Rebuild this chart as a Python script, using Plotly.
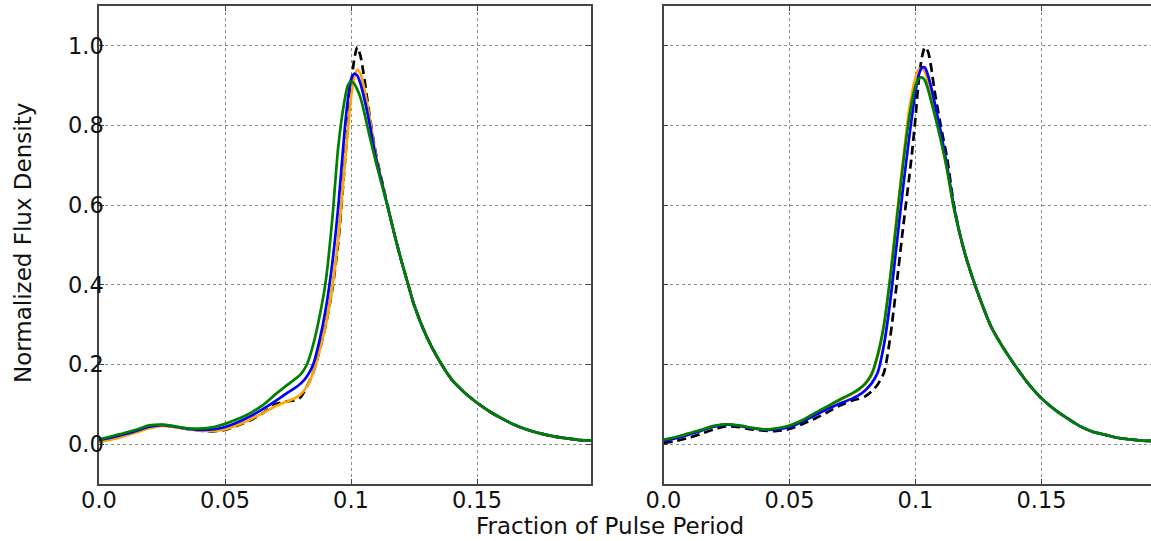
import plotly.graph_objects as go

# shared phase grid (fraction of pulse period)
phase = [0, 0.005, 0.01, 0.015, 0.02, 0.025, 0.03, 0.035, 0.04, 0.045, 0.05, 0.055, 0.06, 0.065, 0.07,
         0.075, 0.0775, 0.08, 0.0825, 0.085, 0.0875, 0.09, 0.0925,
         0.095, 0.0975, 0.09875, 0.1, 0.10125, 0.1025, 0.10375, 0.105, 0.10625, 0.1075,
         0.11, 0.1125, 0.115, 0.1175, 0.12, 0.1225, 0.125,
         0.13, 0.135, 0.14, 0.145, 0.15, 0.155, 0.16, 0.165, 0.17, 0.175, 0.18, 0.185, 0.19, 0.195, 0.2]

# ---- left panel ----
left_black = [0.008, 0.013, 0.022, 0.033, 0.043, 0.048, 0.044, 0.038, 0.034, 0.032, 0.036, 0.047, 0.060, 0.078, 0.100,
              0.108, 0.110, 0.118, 0.145, 0.18, 0.235, 0.30, 0.385,
              0.51, 0.70, 0.80, 0.895, 0.965, 0.997, 0.975, 0.93, 0.875, 0.82,
              0.725, 0.655, 0.585, 0.52, 0.46, 0.405, 0.35,
              0.27, 0.21, 0.162, 0.13, 0.104, 0.082, 0.064, 0.048, 0.036, 0.027, 0.020, 0.015, 0.011, 0.009, 0.008]
left_orange = [0.005, 0.012, 0.020, 0.030, 0.040, 0.046, 0.043, 0.038, 0.034, 0.033, 0.037, 0.048, 0.062, 0.078, 0.095,
               0.108, 0.115, 0.125, 0.145, 0.18, 0.235, 0.30, 0.39,
               0.52, 0.70, 0.79, 0.87, 0.92, 0.94, 0.93, 0.90, 0.86, 0.815,
               0.72, 0.65, 0.585, 0.52, 0.46, 0.405, 0.35,
               0.27, 0.21, 0.162, 0.13, 0.104, 0.082, 0.064, 0.048, 0.036, 0.027, 0.020, 0.015, 0.011, 0.009, 0.008]
left_blue = [0.010, 0.017, 0.025, 0.034, 0.044, 0.048, 0.044, 0.039, 0.036, 0.037, 0.043, 0.055, 0.070, 0.088, 0.108,
             0.130, 0.140, 0.152, 0.170, 0.20, 0.26, 0.34, 0.45,
             0.60, 0.79, 0.865, 0.915, 0.93, 0.925, 0.905, 0.875, 0.84, 0.80,
             0.715, 0.65, 0.585, 0.52, 0.46, 0.405, 0.35,
             0.27, 0.21, 0.162, 0.13, 0.104, 0.082, 0.064, 0.048, 0.036, 0.027, 0.020, 0.015, 0.011, 0.009, 0.008]
left_green = [0.012, 0.020, 0.028, 0.037, 0.047, 0.049, 0.045, 0.040, 0.039, 0.042, 0.051, 0.063, 0.078, 0.098, 0.125,
              0.150, 0.162, 0.175, 0.20, 0.25, 0.32, 0.41, 0.56,
              0.75, 0.865, 0.90, 0.91, 0.905, 0.89, 0.87, 0.84, 0.805, 0.77,
              0.705, 0.645, 0.585, 0.52, 0.46, 0.405, 0.35,
              0.27, 0.21, 0.162, 0.13, 0.104, 0.082, 0.064, 0.048, 0.036, 0.027, 0.020, 0.015, 0.011, 0.009, 0.008]

# ---- right panel ----
right_black = [0.003, 0.008, 0.016, 0.026, 0.037, 0.045, 0.043, 0.037, 0.034, 0.033, 0.038, 0.050, 0.064, 0.080, 0.097,
               0.110, 0.114, 0.120, 0.132, 0.150, 0.18, 0.27, 0.40,
               0.54, 0.67, 0.74, 0.82, 0.91, 0.97, 0.997, 0.985, 0.945, 0.89,
               0.80, 0.72, 0.61, 0.53, 0.47, 0.42, 0.375,
               0.295, 0.24, 0.193, 0.15, 0.115, 0.088, 0.066, 0.046, 0.032, 0.024, 0.016, 0.012, 0.009, 0.008, 0.007]
right_orange = [0.010, 0.017, 0.026, 0.035, 0.045, 0.050, 0.047, 0.041, 0.037, 0.039, 0.046, 0.059, 0.077, 0.094, 0.111,
                0.127, 0.137, 0.150, 0.172, 0.22, 0.30, 0.42, 0.57,
                0.71, 0.84, 0.885, 0.92, 0.94, 0.944, 0.935, 0.91, 0.875, 0.835,
                0.765, 0.69, 0.60, 0.53, 0.47, 0.42, 0.375,
                0.295, 0.24, 0.193, 0.15, 0.115, 0.088, 0.066, 0.046, 0.032, 0.024, 0.016, 0.012, 0.009, 0.008, 0.007]
right_blue = [0.008, 0.015, 0.024, 0.034, 0.044, 0.049, 0.046, 0.040, 0.036, 0.037, 0.043, 0.056, 0.072, 0.088, 0.102,
              0.115, 0.123, 0.135, 0.152, 0.18, 0.25, 0.36, 0.50,
              0.64, 0.77, 0.83, 0.885, 0.925, 0.945, 0.945, 0.925, 0.895, 0.86,
              0.785, 0.70, 0.605, 0.53, 0.47, 0.42, 0.375,
              0.295, 0.24, 0.193, 0.15, 0.115, 0.088, 0.066, 0.046, 0.032, 0.024, 0.016, 0.012, 0.009, 0.008, 0.007]
right_green = [0.011, 0.018, 0.027, 0.036, 0.046, 0.050, 0.047, 0.041, 0.037, 0.040, 0.047, 0.060, 0.078, 0.095, 0.112,
               0.128, 0.138, 0.152, 0.175, 0.225, 0.30, 0.42, 0.56,
               0.70, 0.82, 0.865, 0.90, 0.917, 0.921, 0.913, 0.89, 0.86, 0.83,
               0.765, 0.69, 0.60, 0.53, 0.47, 0.42, 0.375,
               0.295, 0.24, 0.193, 0.15, 0.115, 0.088, 0.066, 0.046, 0.032, 0.024, 0.016, 0.012, 0.009, 0.008, 0.007]

x_tickvals = [0, 0.05, 0.1, 0.15]
x_ticktext = ["0.0", "0.05", "0.1", "0.15"]
y_tickvals = [0.0, 0.2, 0.4, 0.6, 0.8, 1.0]
y_ticktext = ["0.0", "0.2", "0.4", "0.6", "0.8", "1.0"]

FONT = "DejaVu Sans"
W, H = 1151, 541

fig = go.Figure()

series = [("black", "9px,5px"), ("orange", "solid"), ("blue", "solid"), ("green", "solid")]
colors = {"black": "#000000", "orange": "#ffa500", "blue": "#0000ff", "green": "#008000"}
left = {"black": left_black, "orange": left_orange, "blue": left_blue, "green": left_green}
right = {"black": right_black, "orange": right_orange, "blue": right_blue, "green": right_green}

for data, xa, ya in ((left, "x", "y"), (right, "x2", "y2")):
    for name, dash in series:
        fig.add_trace(go.Scatter(x=phase, y=data[name], mode="lines", xaxis=xa, yaxis=ya,
                                 line=dict(color=colors[name], width=2.7, dash=dash,
                                           shape="spline", smoothing=0.7),
                                 showlegend=False, hoverinfo="skip"))

ydom = [1 - 484 / H, 1 - 6 / H]
common_axis = dict(
    showgrid=True, gridcolor="#8a8a8a", griddash="dot", gridwidth=1,
    zeroline=False, showline=True, linecolor="#444444", linewidth=1.5,
    ticks="inside", ticklen=5, tickcolor="#444444", tickwidth=1,
    tickfont=dict(family=FONT, size=22.5, color="#111111"),
    automargin=False,
)

fig.update_layout(
    width=W, height=H,
    margin=dict(l=0, r=0, t=0, b=0),
    paper_bgcolor="white", plot_bgcolor="white",
    font=dict(family=FONT, size=22, color="#111111"),
    xaxis=dict(domain=[99 / W, 591 / W], range=[0, 0.19524], tickvals=x_tickvals, ticktext=x_ticktext,
               mirror="allticks", anchor="y", ticklabelstandoff=-5, **common_axis),
    yaxis=dict(domain=ydom, range=[-0.1, 1.1], tickvals=y_tickvals, ticktext=y_ticktext,
               mirror="allticks", anchor="x", ticklabelstandoff=-11, **common_axis),
    xaxis2=dict(domain=[663.5 / W, 1.0], range=[0, 0.19345], tickvals=x_tickvals, ticktext=x_ticktext,
                mirror="allticks", anchor="y2", ticklabelstandoff=-5, **common_axis),
    yaxis2=dict(domain=ydom, range=[-0.1, 1.1], tickvals=y_tickvals, ticktext=y_ticktext,
                showticklabels=False, mirror=False, anchor="x2", **common_axis),
    annotations=[
        dict(text="Fraction of Pulse Period", xref="paper", yref="paper", x=610 / W, y=1 - 526 / H,
             xanchor="center", yanchor="middle", showarrow=False,
             font=dict(family=FONT, size=23, color="#111111")),
        dict(text="Normalized Flux Density", xref="paper", yref="paper", x=23 / W, y=1 - 243 / H,
             xanchor="center", yanchor="middle", textangle=-90, showarrow=False,
             font=dict(family=FONT, size=23, color="#111111")),
    ],
)

fig.write_html("out.html", config={"displayModeBar": False},
               post_script="document.body.style.margin='0px';document.body.style.overflow='hidden';")
